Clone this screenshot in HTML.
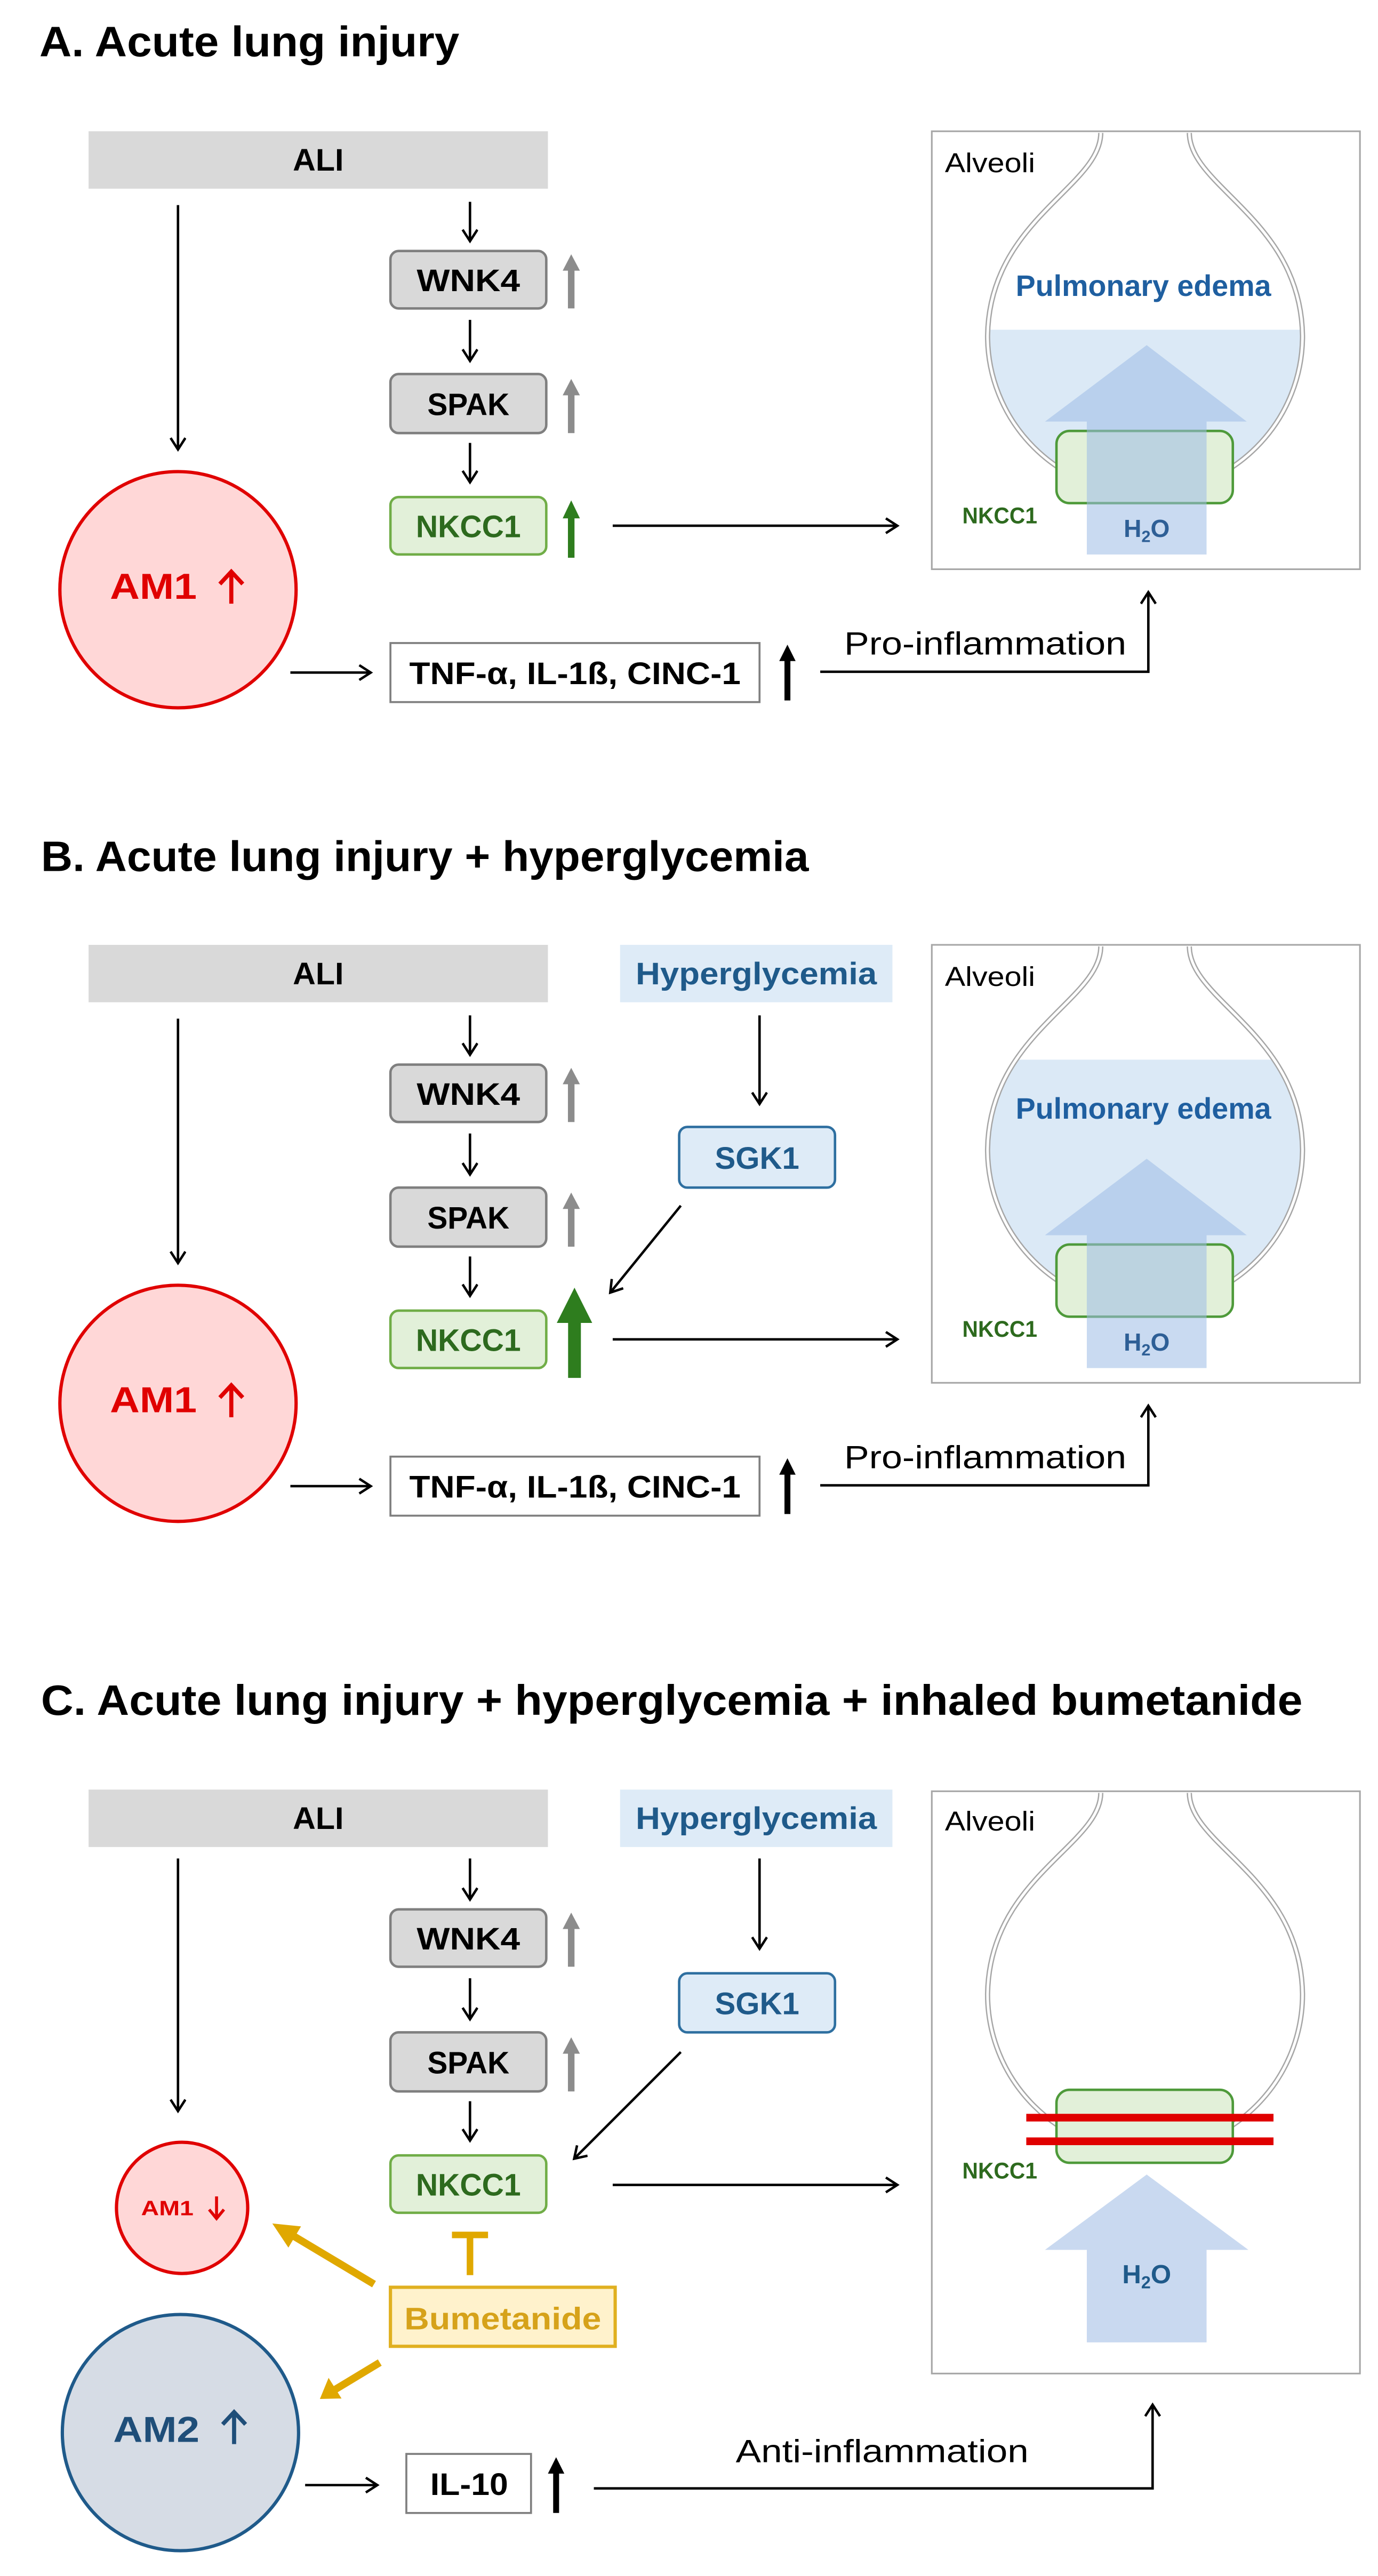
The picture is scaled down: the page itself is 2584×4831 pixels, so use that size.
<!DOCTYPE html>
<html><head><meta charset="utf-8">
<style>
html,body{margin:0;padding:0;background:#fff;}
svg{display:block;}
text{font-family:"Liberation Sans",sans-serif;}
.b{font-weight:bold;}
</style></head><body>
<svg width="2584" height="4831" viewBox="0 0 840 1570.4" xmlns="http://www.w3.org/2000/svg">
<defs>
<marker id="ah" markerUnits="userSpaceOnUse" markerWidth="12" markerHeight="12" refX="8" refY="5" orient="auto">
<path d="M1,0.5 L8,5 L1,9.5" fill="none" stroke="#000" stroke-width="1.5"/>
</marker>
<clipPath id="bulb"><circle cx="698" cy="700.7" r="94.5"/></clipPath>
</defs>
<rect width="840" height="1570.4" fill="#fff"/>

<text x="24" y="34.3" font-size="26" class="b" textLength="256" lengthAdjust="spacingAndGlyphs">A. Acute lung injury</text>
<text x="25" y="531" font-size="26" class="b" textLength="468" lengthAdjust="spacingAndGlyphs">B. Acute lung injury + hyperglycemia</text>
<text x="25" y="1045.5" font-size="26" class="b" textLength="769" lengthAdjust="spacingAndGlyphs">C. Acute lung injury + hyperglycemia +  inhaled bumetanide</text>

<!-- ================= PANEL A ================= -->
<g transform="translate(0,-496)">
<rect x="54" y="576" width="280" height="35" fill="#d9d9d9"/>
<text x="194" y="600" font-size="19" class="b" text-anchor="middle" textLength="31" lengthAdjust="spacingAndGlyphs">ALI</text>
<line x1="108.5" y1="621" x2="108.5" y2="770" stroke="#000" stroke-width="1.5" marker-end="url(#ah)"/>
<line x1="286.5" y1="619" x2="286.5" y2="643" stroke="#000" stroke-width="1.5" marker-end="url(#ah)"/>
<line x1="286.5" y1="691" x2="286.5" y2="716" stroke="#000" stroke-width="1.5" marker-end="url(#ah)"/>
<line x1="286.5" y1="766" x2="286.5" y2="790" stroke="#000" stroke-width="1.5" marker-end="url(#ah)"/>
<rect x="238" y="649" width="95" height="35" rx="5" fill="#d9d9d9" stroke="#7f7f7f" stroke-width="1.5"/>
<text x="285.5" y="673.5" font-size="19" class="b" text-anchor="middle" textLength="63" lengthAdjust="spacingAndGlyphs">WNK4</text>
<rect x="238" y="724" width="95" height="36" rx="5" fill="#d9d9d9" stroke="#7f7f7f" stroke-width="1.5"/>
<text x="285.5" y="749" font-size="19" class="b" text-anchor="middle" textLength="50" lengthAdjust="spacingAndGlyphs">SPAK</text>
<rect x="238" y="799" width="95" height="35" rx="5" fill="#e2f0d9" stroke="#70ad47" stroke-width="1.5"/>
<text x="285.5" y="823.5" font-size="19" class="b" text-anchor="middle" fill="#2d6a1e" textLength="64" lengthAdjust="spacingAndGlyphs">NKCC1</text>
<polygon points="346.2,661 346.2,684 350.2,684 350.2,661 353.5,661 348.2,651 343,661" fill="#8c8c8c"/>
<polygon points="346.2,737 346.2,760 350.2,760 350.2,737 353.5,737 348.2,727 343,737" fill="#8c8c8c"/>
<polygon points="346.2,812 346.2,836 350.2,836 350.2,812 353.5,812 348.2,801 343,812" fill="#2e7d1e"/>
<line x1="373.5" y1="816.5" x2="547" y2="816.5" stroke="#000" stroke-width="1.5" marker-end="url(#ah)"/>
<circle cx="108.5" cy="855.5" r="72" fill="#ffd7d7" stroke="#e00000" stroke-width="2"/>
<text x="67" y="861" font-size="22" class="b" fill="#e00000" textLength="53" lengthAdjust="spacingAndGlyphs">AM1</text>
<path d="M141,864 V845 M134,852 L141,844.5 L148,852" fill="none" stroke="#e00000" stroke-width="2.5"/>
<line x1="177" y1="906" x2="226" y2="906" stroke="#000" stroke-width="1.5" marker-end="url(#ah)"/>
<rect x="238" y="888" width="225" height="36" fill="#fff" stroke="#7f7f7f" stroke-width="1.2"/>
<text x="350.5" y="913" font-size="19" class="b" text-anchor="middle" textLength="202" lengthAdjust="spacingAndGlyphs">TNF-α, IL-1ß, CINC-1</text>
<polygon points="478.2,899 478.2,923 481.8,923 481.8,899 485,899 480,889 475,899" fill="#000"/>
<path d="M500,905.5 H700 V857" fill="none" stroke="#000" stroke-width="1.5" marker-end="url(#ah)"/>
<text x="514.6" y="895" font-size="19.5" textLength="172" lengthAdjust="spacingAndGlyphs">Pro-inflammation</text>
<rect x="568" y="576" width="261" height="267" fill="#fff" stroke="#a6a6a6" stroke-width="1"/>
<rect x="600" y="697" width="200" height="200" fill="#dbe9f6" clip-path="url(#bulb)"/>
<path d="M671,577 C671,610 603,630 602,700.7 A96,96 0 0 0 794,700.7 C793,630 725,610 725,577" fill="none" stroke="#a6a6a6" stroke-width="3.2"/>
<path d="M671,577 C671,610 603,630 602,700.7 A96,96 0 0 0 794,700.7 C793,630 725,610 725,577" fill="none" stroke="#fff" stroke-width="1.6"/>
<text x="576" y="601" font-size="16.5" textLength="55" lengthAdjust="spacingAndGlyphs">Alveoli</text>
<text x="697" y="676.4" font-size="18" class="b" fill="#1f5fa0" text-anchor="middle" textLength="155.7" lengthAdjust="spacingAndGlyphs">Pulmonary edema</text>
<rect x="644" y="758.7" width="107.5" height="44" rx="8" fill="#e2f0d9" stroke="#4e9a3a" stroke-width="1.5"/>
<polygon points="699,706.4 760,753 735.5,753 735.5,834 662.5,834 662.5,753 637,753" fill="#9dbbe6" fill-opacity="0.55"/>
<text x="586.6" y="815" font-size="14" class="b" fill="#2d6a1e" textLength="45.7" lengthAdjust="spacingAndGlyphs">NKCC1</text>
<text x="699" y="823.4" font-size="15" class="b" fill="#2e5f96" text-anchor="middle">H<tspan font-size="10" dy="3">2</tspan><tspan dy="-3">O</tspan></text>
</g>

<!-- ================= PANEL B ================= -->
<g>
<rect x="54" y="576" width="280" height="35" fill="#d9d9d9"/>
<text x="194" y="600" font-size="19" class="b" text-anchor="middle" textLength="31" lengthAdjust="spacingAndGlyphs">ALI</text>
<rect x="378" y="576" width="166" height="35" fill="#deebf7"/>
<text x="461" y="600" font-size="19" class="b" fill="#1f5a8a" text-anchor="middle" textLength="147" lengthAdjust="spacingAndGlyphs">Hyperglycemia</text>
<line x1="108.5" y1="621" x2="108.5" y2="770" stroke="#000" stroke-width="1.5" marker-end="url(#ah)"/>
<line x1="286.5" y1="619" x2="286.5" y2="643" stroke="#000" stroke-width="1.5" marker-end="url(#ah)"/>
<line x1="286.5" y1="691" x2="286.5" y2="716" stroke="#000" stroke-width="1.5" marker-end="url(#ah)"/>
<line x1="286.5" y1="766" x2="286.5" y2="790" stroke="#000" stroke-width="1.5" marker-end="url(#ah)"/>
<line x1="463" y1="619" x2="463" y2="673" stroke="#000" stroke-width="1.5" marker-end="url(#ah)"/>
<rect x="238" y="649" width="95" height="35" rx="5" fill="#d9d9d9" stroke="#7f7f7f" stroke-width="1.5"/>
<text x="285.5" y="673.5" font-size="19" class="b" text-anchor="middle" textLength="63" lengthAdjust="spacingAndGlyphs">WNK4</text>
<rect x="238" y="724" width="95" height="36" rx="5" fill="#d9d9d9" stroke="#7f7f7f" stroke-width="1.5"/>
<text x="285.5" y="749" font-size="19" class="b" text-anchor="middle" textLength="50" lengthAdjust="spacingAndGlyphs">SPAK</text>
<rect x="238" y="799" width="95" height="35" rx="5" fill="#e2f0d9" stroke="#70ad47" stroke-width="1.5"/>
<text x="285.5" y="823.5" font-size="19" class="b" text-anchor="middle" fill="#2d6a1e" textLength="64" lengthAdjust="spacingAndGlyphs">NKCC1</text>
<rect x="414" y="687" width="95" height="37" rx="5" fill="#deebf7" stroke="#2e6fa0" stroke-width="1.5"/>
<text x="461.5" y="712.5" font-size="19" class="b" fill="#1f5a8a" text-anchor="middle" textLength="51.5" lengthAdjust="spacingAndGlyphs">SGK1</text>
<line x1="415" y1="735" x2="372" y2="788" stroke="#000" stroke-width="1.5" marker-end="url(#ah)"/>
<polygon points="346.2,661 346.2,684 350.2,684 350.2,661 353.5,661 348.2,651 343,661" fill="#8c8c8c"/>
<polygon points="346.2,737 346.2,760 350.2,760 350.2,737 353.5,737 348.2,727 343,737" fill="#8c8c8c"/>
<polygon points="346.3,806.5 346.3,840 354.1,840 354.1,806.5 361,806.5 350.2,785 339.4,806.5" fill="#2e7d1e"/>
<line x1="373.5" y1="816.5" x2="547" y2="816.5" stroke="#000" stroke-width="1.5" marker-end="url(#ah)"/>
<circle cx="108.5" cy="855.5" r="72" fill="#ffd7d7" stroke="#e00000" stroke-width="2"/>
<text x="67" y="861" font-size="22" class="b" fill="#e00000" textLength="53" lengthAdjust="spacingAndGlyphs">AM1</text>
<path d="M141,864 V845 M134,852 L141,844.5 L148,852" fill="none" stroke="#e00000" stroke-width="2.5"/>
<line x1="177" y1="906" x2="226" y2="906" stroke="#000" stroke-width="1.5" marker-end="url(#ah)"/>
<rect x="238" y="888" width="225" height="36" fill="#fff" stroke="#7f7f7f" stroke-width="1.2"/>
<text x="350.5" y="913" font-size="19" class="b" text-anchor="middle" textLength="202" lengthAdjust="spacingAndGlyphs">TNF-α, IL-1ß, CINC-1</text>
<polygon points="478.2,899 478.2,923 481.8,923 481.8,899 485,899 480,889 475,899" fill="#000"/>
<path d="M500,905.5 H700 V857" fill="none" stroke="#000" stroke-width="1.5" marker-end="url(#ah)"/>
<text x="514.6" y="895" font-size="19.5" textLength="172" lengthAdjust="spacingAndGlyphs">Pro-inflammation</text>
<rect x="568" y="576" width="261" height="267" fill="#fff" stroke="#a6a6a6" stroke-width="1"/>
<rect x="600" y="646" width="200" height="250" fill="#dbe9f6" clip-path="url(#bulb)"/>
<path d="M671,577 C671,610 603,630 602,700.7 A96,96 0 0 0 794,700.7 C793,630 725,610 725,577" fill="none" stroke="#a6a6a6" stroke-width="3.2"/>
<path d="M671,577 C671,610 603,630 602,700.7 A96,96 0 0 0 794,700.7 C793,630 725,610 725,577" fill="none" stroke="#fff" stroke-width="1.6"/>
<text x="576" y="601" font-size="16.5" textLength="55" lengthAdjust="spacingAndGlyphs">Alveoli</text>
<text x="697" y="682" font-size="18" class="b" fill="#1f5fa0" text-anchor="middle" textLength="155.7" lengthAdjust="spacingAndGlyphs">Pulmonary edema</text>
<rect x="644" y="758.7" width="107.5" height="44" rx="8" fill="#e2f0d9" stroke="#4e9a3a" stroke-width="1.5"/>
<polygon points="699,706.4 760,753 735.5,753 735.5,834 662.5,834 662.5,753 637,753" fill="#9dbbe6" fill-opacity="0.55"/>
<text x="586.6" y="815" font-size="14" class="b" fill="#2d6a1e" textLength="45.7" lengthAdjust="spacingAndGlyphs">NKCC1</text>
<text x="699" y="823.4" font-size="15" class="b" fill="#2e5f96" text-anchor="middle">H<tspan font-size="10" dy="3">2</tspan><tspan dy="-3">O</tspan></text>
</g>

<!-- ================= PANEL C ================= -->
<g transform="translate(0,515)">
<rect x="54" y="576" width="280" height="35" fill="#d9d9d9"/>
<text x="194" y="600" font-size="19" class="b" text-anchor="middle" textLength="31" lengthAdjust="spacingAndGlyphs">ALI</text>
<rect x="378" y="576" width="166" height="35" fill="#deebf7"/>
<text x="461" y="600" font-size="19" class="b" fill="#1f5a8a" text-anchor="middle" textLength="147" lengthAdjust="spacingAndGlyphs">Hyperglycemia</text>
<line x1="108.5" y1="618" x2="108.5" y2="772" stroke="#000" stroke-width="1.5" marker-end="url(#ah)"/>
<line x1="286.5" y1="618" x2="286.5" y2="643" stroke="#000" stroke-width="1.5" marker-end="url(#ah)"/>
<line x1="286.5" y1="691" x2="286.5" y2="716" stroke="#000" stroke-width="1.5" marker-end="url(#ah)"/>
<line x1="286.5" y1="766" x2="286.5" y2="790" stroke="#000" stroke-width="1.5" marker-end="url(#ah)"/>
<line x1="463" y1="618" x2="463" y2="673" stroke="#000" stroke-width="1.5" marker-end="url(#ah)"/>
<rect x="238" y="649" width="95" height="35" rx="5" fill="#d9d9d9" stroke="#7f7f7f" stroke-width="1.5"/>
<text x="285.5" y="673.5" font-size="19" class="b" text-anchor="middle" textLength="63" lengthAdjust="spacingAndGlyphs">WNK4</text>
<rect x="238" y="724" width="95" height="36" rx="5" fill="#d9d9d9" stroke="#7f7f7f" stroke-width="1.5"/>
<text x="285.5" y="749" font-size="19" class="b" text-anchor="middle" textLength="50" lengthAdjust="spacingAndGlyphs">SPAK</text>
<rect x="238" y="799" width="95" height="35" rx="5" fill="#e2f0d9" stroke="#70ad47" stroke-width="1.5"/>
<text x="285.5" y="823.5" font-size="19" class="b" text-anchor="middle" fill="#2d6a1e" textLength="64" lengthAdjust="spacingAndGlyphs">NKCC1</text>
<rect x="414" y="688" width="95" height="36" rx="5" fill="#deebf7" stroke="#2e6fa0" stroke-width="1.5"/>
<text x="461.5" y="713" font-size="19" class="b" fill="#1f5a8a" text-anchor="middle" textLength="51.5" lengthAdjust="spacingAndGlyphs">SGK1</text>
<line x1="415" y1="736" x2="350" y2="801" stroke="#000" stroke-width="1.5" marker-end="url(#ah)"/>
<polygon points="346.2,661 346.2,684 350.2,684 350.2,661 353.5,661 348.2,651 343,661" fill="#8c8c8c"/>
<polygon points="346.2,737 346.2,760 350.2,760 350.2,737 353.5,737 348.2,727 343,737" fill="#8c8c8c"/>
<line x1="373.5" y1="817" x2="547" y2="817" stroke="#000" stroke-width="1.5" marker-end="url(#ah)"/>
<circle cx="111" cy="831" r="40" fill="#ffd7d7" stroke="#e00000" stroke-width="2"/>
<text x="86" y="835.5" font-size="12.5" class="b" fill="#e00000" textLength="32" lengthAdjust="spacingAndGlyphs">AM1</text>
<path d="M132,824 V837 M127.5,832 L132,837.5 L136.5,832" fill="none" stroke="#e00000" stroke-width="1.8"/>
<line x1="286.5" y1="847" x2="286.5" y2="872" stroke="#e0a800" stroke-width="4"/>
<line x1="275.5" y1="847.5" x2="297.5" y2="847.5" stroke="#e0a800" stroke-width="4"/>
<rect x="238" y="879.4" width="137" height="36" fill="#fff2cc" stroke="#e0b020" stroke-width="2"/>
<text x="306.5" y="905" font-size="19" class="b" fill="#d6a21a" text-anchor="middle" textLength="120" lengthAdjust="spacingAndGlyphs">Bumetanide</text>
<line x1="228" y1="877.5" x2="177" y2="847" stroke="#e0a800" stroke-width="4.5"/>
<polygon points="166,840.5 183.5,842.3 175.8,855.2" fill="#e0a800"/>
<line x1="231.5" y1="925.3" x2="204" y2="941.9" stroke="#e0a800" stroke-width="4.5"/>
<polygon points="195,947.5 200.3,934.6 208.2,947.2" fill="#e0a800"/>
<circle cx="110" cy="968" r="72" fill="#d6dce5" stroke="#1f5a8a" stroke-width="2"/>
<text x="69" y="973.7" font-size="22" class="b" fill="#1f4e79" textLength="52.6" lengthAdjust="spacingAndGlyphs">AM2</text>
<path d="M142.7,975 V956 M135.7,963 L142.7,955.5 L149.7,963" fill="none" stroke="#1f4e79" stroke-width="2.5"/>
<line x1="186" y1="1000" x2="230" y2="1000" stroke="#000" stroke-width="1.5" marker-end="url(#ah)"/>
<rect x="247.7" y="981" width="76" height="36" fill="#fff" stroke="#7f7f7f" stroke-width="1.2"/>
<text x="286" y="1006" font-size="19" class="b" text-anchor="middle" textLength="47.5" lengthAdjust="spacingAndGlyphs">IL-10</text>
<polygon points="337.2,993 337.2,1017 340.8,1017 340.8,993 344,993 339,983 334,993" fill="#000"/>
<path d="M362,1002 H702.6 V951" fill="none" stroke="#000" stroke-width="1.5" marker-end="url(#ah)"/>
<text x="448.5" y="986" font-size="19.5" textLength="178.5" lengthAdjust="spacingAndGlyphs">Anti-inflammation</text>
<rect x="568" y="577" width="261" height="355" fill="#fff" stroke="#a6a6a6" stroke-width="1"/>
<path d="M671,578 C671,610 603,630 602,700.7 A96,96 0 0 0 794,700.7 C793,630 725,610 725,578" fill="none" stroke="#a6a6a6" stroke-width="3.2"/>
<path d="M671,578 C671,610 603,630 602,700.7 A96,96 0 0 0 794,700.7 C793,630 725,610 725,578" fill="none" stroke="#fff" stroke-width="1.6"/>
<text x="576" y="601" font-size="16.5" textLength="55" lengthAdjust="spacingAndGlyphs">Alveoli</text>
<rect x="644" y="759" width="107.5" height="44.5" rx="8" fill="#e2f0d9" stroke="#4e9a3a" stroke-width="1.5"/>
<line x1="625.6" y1="776" x2="776.3" y2="776" stroke="#e00000" stroke-width="4.7"/>
<line x1="625.6" y1="790.4" x2="776.3" y2="790.4" stroke="#e00000" stroke-width="4.7"/>
<text x="586.6" y="813" font-size="14" class="b" fill="#2d6a1e" textLength="45.7" lengthAdjust="spacingAndGlyphs">NKCC1</text>
<polygon points="699,810.7 761,856.6 735.5,856.6 735.5,913 662.5,913 662.5,856.6 637,856.6" fill="#c9d9f0"/>
<text x="699" y="877" font-size="16" class="b" fill="#1f5a8a" text-anchor="middle">H<tspan font-size="10.5" dy="3">2</tspan><tspan dy="-3">O</tspan></text>
</g>
</svg>
</body></html>
